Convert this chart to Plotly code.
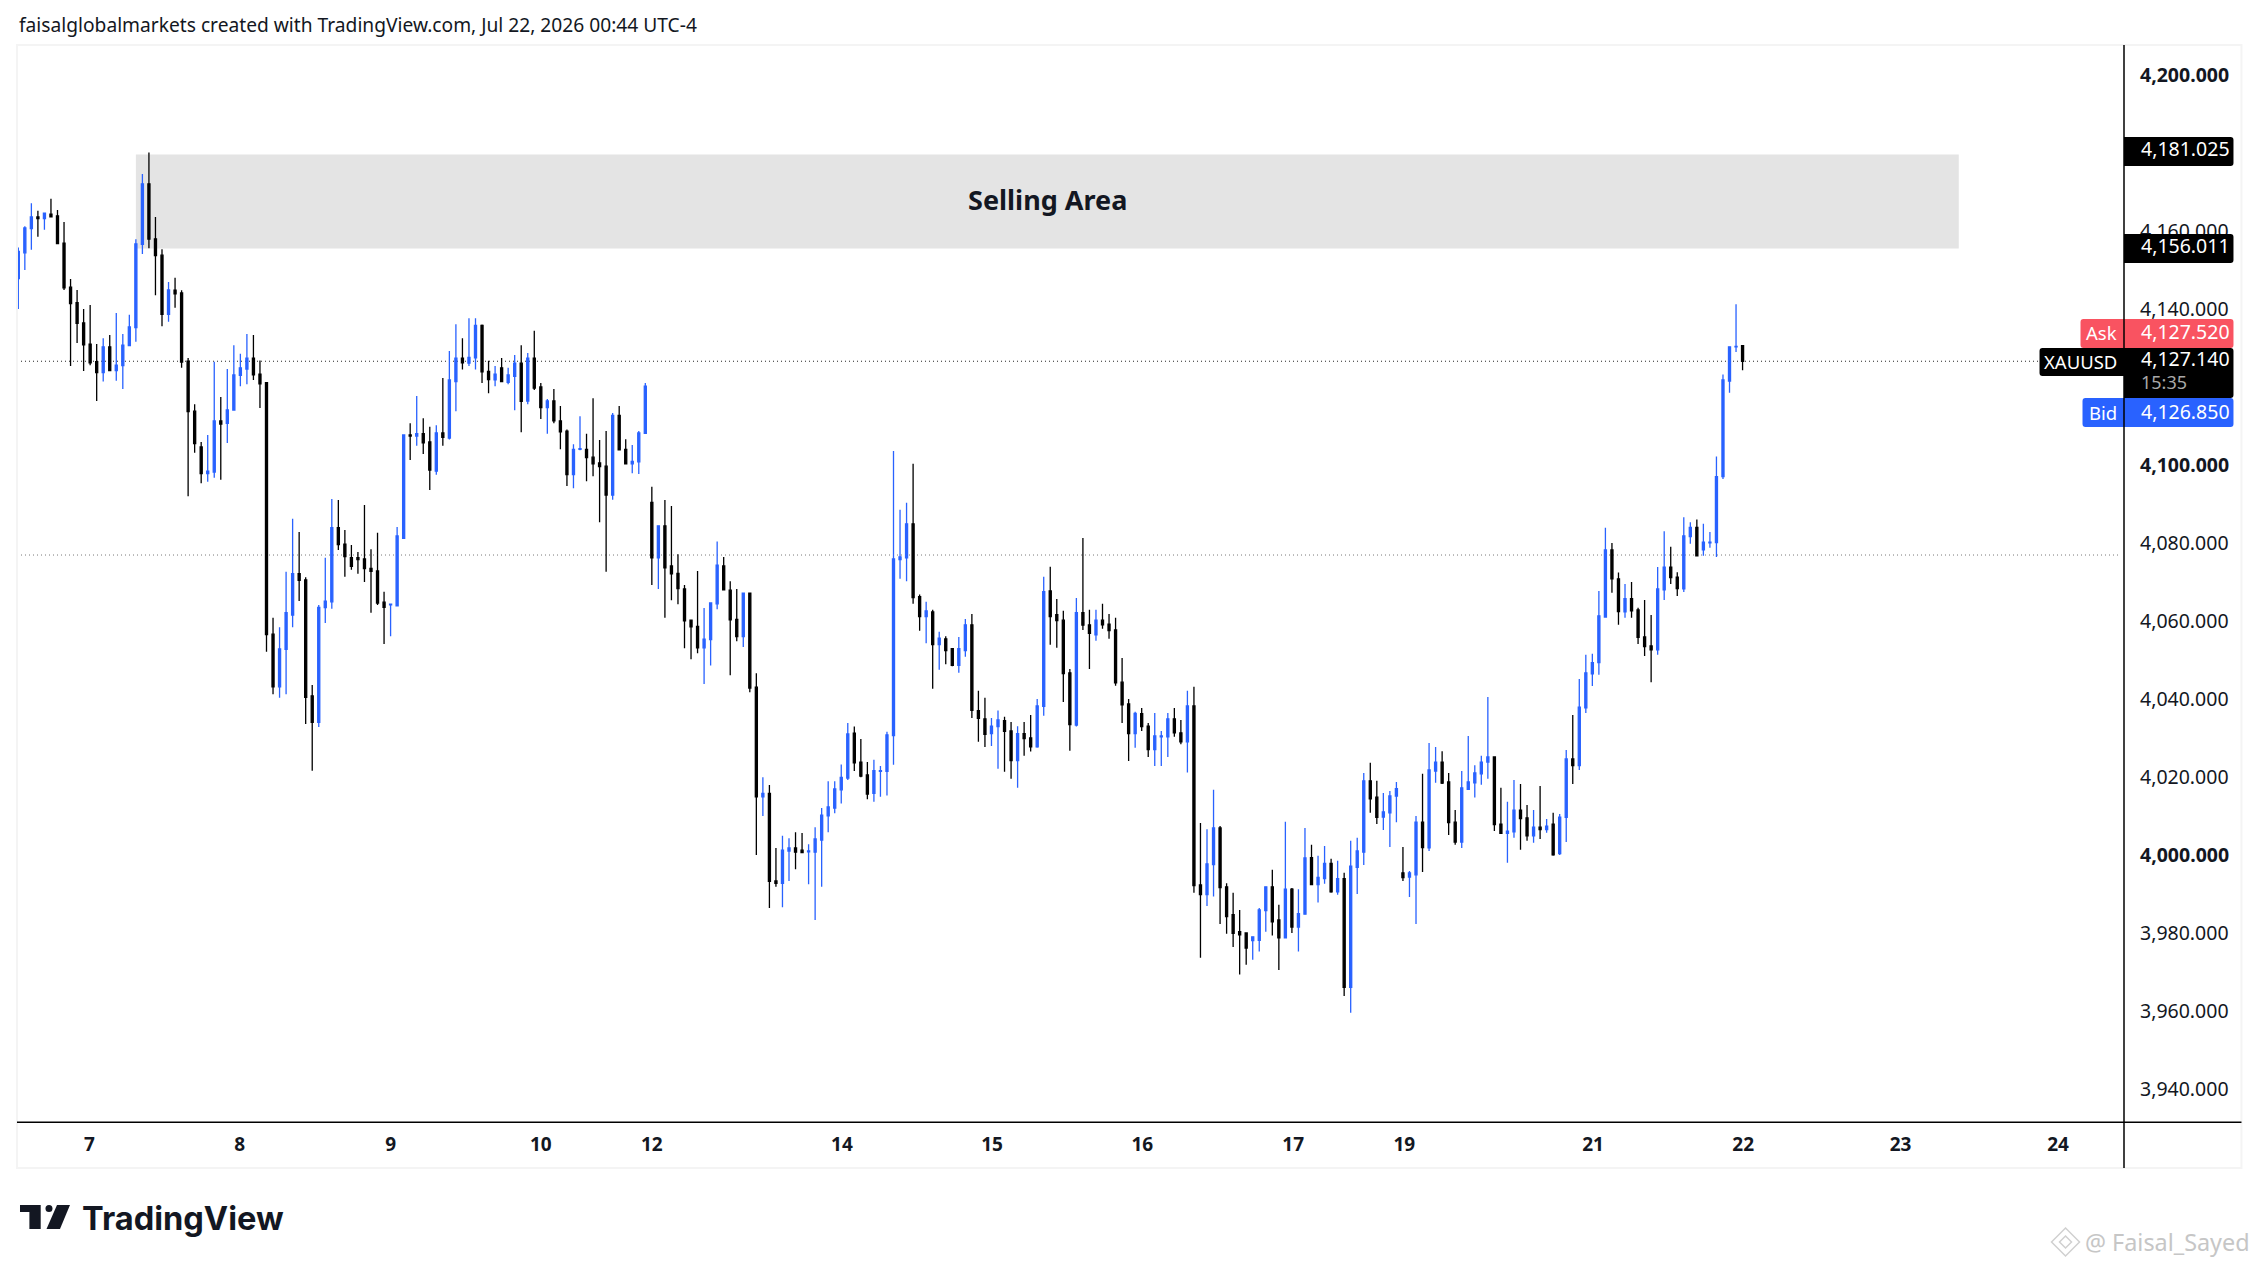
import plotly.graph_objects as go

W, H = 2259, 1267

opens = [4147.8,4154.4,4160.6,4163.6,4163.2,4164.3,4163.9,4156.9,4145.6,4141.6,
4136.4,4131,4126.5,4123.7,4130.3,4124.2,4125.5,4130.6,4135.2,4156.6,
4172.1,4158,4153.8,4138.6,4144.8,4144.1,4126.6,4113.8,4104.6,4097.8,
4098.2,4111.3,4110.7,4114.1,4123,4124.6,4127.4,4123.3,4121.1,4056.6,
4043.1,4052.7,4061.5,4072.1,4070.5,4040.8,4034,4063.4,4064.9,4083.9,
4079.7,4076.2,4076.2,4075.9,4073.5,4072.8,4064.8,4064.1,4063.9,4081.2,
4107.7,4107.4,4108,4105.9,4098.4,4108.2,4106.9,4121.4,4127.4,4126.1,
4127.5,4135.8,4124,4121.8,4124.9,4121.2,4122.7,4126.1,4116.4,4127.4,
4120,4114.7,4116.4,4111.3,4108.7,4097.5,4104,4104,4102,4100.5,
4099.7,4092.3,4112.7,4104,4100.3,4100.8,4108.1,4090.4,4076.2,4084.4,
4074.1,4072.2,4068.2,4060.2,4058.6,4053.1,4055.2,4064.4,4074.1,4067.9,
4060.4,4056,4067.1,4043,4014.9,4015.8,3993.3,3992.7,4001,4001.8,
4001.2,4000.8,4000.7,4003.8,4010,4012,4016.7,4019.7,4031.2,4023.8,
4020.5,4015.8,4021.4,4021.4,4030.6,4075.7,4076.2,4084.9,4066.2,4061.1,
4062.3,4053.9,4055.4,4052.9,4048.6,4052.4,4059,4037,4034.9,4031.1,
4032.9,4034.4,4031.8,4024.2,4031.1,4030,4027.7,4038.1,4067.7,4061.6,
4060.2,4046.7,4033.3,4062.1,4059,4056.4,4060.2,4059.2,4057.7,4044.3,
4038.7,4031.1,4036.2,4033,4027,4030.3,4030.3,4034.9,4031.3,4029,
4038.2,3992.3,3989.8,3997.5,4006.9,3991.8,3984.7,3980.3,3980,3978,
3978.1,3985.7,3991.8,3983.3,3978.7,3991.2,3981.5,3984.8,3999.3,3992.4,
3993.9,3997.8,3990.5,3993.9,3966,3996.8,4000.7,4019,4014.8,4009.7,
4010.8,4015.1,3995.4,3994.3,3994.9,4008.4,4001.8,4021.5,4023.8,4018.7,
4008.4,4003.3,4016.8,4018.5,4020.8,4023.8,4025.1,4007.9,4005.5,4005.9,
4011.5,4009.5,4004.9,4007.1,4006.5,4007.9,4000.3,4009.6,4024.6,4022.9,
4037.7,4046.4,4049.3,4061,4078.2,4070.8,4062.3,4065.7,4062.8,4055.9,
4053.6,4052.6,4068,4073.8,4071.2,4068.2,4081.6,4084,4078.2,4080,
4080.1,4097,4121.5,4130.3,4130.6]

closes = [4154.8,4160.8,4163.6,4163.2,4164.6,4163.6,4156.8,4145.4,4141.4,4136.3,
4130.8,4126.2,4123.7,4130.3,4124.2,4125.6,4130.7,4135.4,4156.7,4172.1,
4157.9,4153.7,4138.6,4144.9,4143.9,4126.4,4113.7,4105.5,4097.8,4098.4,
4111.3,4110.5,4114.1,4123.1,4124.9,4127.4,4123.1,4120.8,4056.5,4043.1,
4052.8,4062.1,4072.1,4070.4,4040.4,4034,4063.5,4065.1,4083.9,4079.6,
4076.5,4074,4075.7,4073.4,4072.7,4064.6,4063.5,4064.3,4081.8,4107.7,
4107.4,4108,4105.7,4098.7,4108.2,4107.1,4121.8,4127.4,4126.2,4127.6,
4135.8,4123.9,4121.9,4123.3,4121.4,4123.1,4126.1,4116.3,4127.4,4119.7,
4114.7,4116.4,4111.3,4108.5,4097.5,4104,4104.2,4101.9,4100.3,4099.6,
4092.3,4112.7,4103.9,4100.3,4100.9,4108.2,4120.2,4076.2,4084.4,4073.6,
4072.1,4068.3,4060,4058.5,4053.1,4055.3,4064.6,4074.3,4068,4060.3,
4056,4067.1,4042.8,4014.9,4015.8,3993.2,3992.7,4001.2,4001.8,4000.7,
4000.6,4001,4004.1,4010.2,4012.3,4016.9,4019.9,4031,4023.6,4020.2,
4015.6,4021.6,4021.6,4030.8,4075.9,4076.4,4084.9,4066,4061.1,4062.6,
4053.9,4055.6,4052.4,4048.6,4052.9,4059,4037.1,4035,4030.9,4033,
4034.6,4031.7,4024.2,4031.1,4029.8,4027.7,4038.2,4067.5,4061.1,4060.1,
4046.5,4033.4,4062.1,4058.9,4056.8,4060.2,4059,4057.5,4044.1,4038.5,
4031.1,4036.3,4032.9,4027,4030.5,4030.5,4034.9,4031.3,4029,4038.2,
3992.1,3989.8,3997.7,4006.9,3991.6,3984.2,3979.9,3979.5,3976.1,3979,
3985.9,3991.8,3982.8,3978.7,3991.2,3981.5,3984.9,3999.2,3992.4,3994.2,
3997.8,3990.5,3993.9,3966,3997.1,4001,4019,4014.4,4009.6,4011,
4015.1,4017,3994.2,3995.4,4008.4,4001.9,4021.8,4023.8,4018.4,4008.3,
4003.3,4017.2,4018.7,4021,4023.8,4025.1,4007.8,4005.5,4006.1,4011.5,
4009.3,4004.9,4007.1,4006.5,4007.4,4000,4009.7,4024.6,4022.9,4037.9,
4046.7,4049.3,4061.3,4078.2,4070.8,4062.4,4065.7,4062.6,4055.8,4053.4,
4052.6,4068.2,4073.8,4071.1,4068.3,4081.8,4084,4076.7,4080.2,4080.2,
4097,4121.8,4130.3,4130.4,4126.6]

highs = [4155.8,4161.2,4167.1,4165.2,4164.6,4168.3,4165.4,4162.3,4147.7,4144.9,
4140,4141,4131,4132.5,4133.3,4139,4133.6,4138.5,4157.9,4174.6,
4180.1,4163.6,4155.3,4146.9,4148,4144.8,4127.4,4115.6,4105.9,4107.7,
4126.5,4117.4,4124.6,4130.7,4128.5,4133.6,4133.3,4126.8,4121.1,4060.8,
4058.4,4072.6,4086.2,4082.8,4071.2,4043.6,4064.1,4076.2,4091.3,4091,
4083.3,4079.5,4077.7,4089.7,4078.4,4082.6,4067.5,4064.4,4084.1,4107.7,
4110.7,4117.7,4112,4109.8,4110.2,4122.3,4129.2,4136.1,4132.5,4137.6,
4137.6,4136,4126.7,4125.4,4127.4,4124.9,4128.2,4130.7,4128.7,4134.4,
4121,4116.9,4119.5,4115.1,4109.1,4105.3,4112.5,4108,4117.1,4106.4,
4108.7,4113.3,4115.1,4106.6,4105.1,4108.7,4121,4094.4,4084.5,4091,
4089.5,4077.1,4069.2,4060.2,4072.8,4063.3,4064.8,4080.4,4076.4,4070.2,
4068.2,4067.1,4067.2,4046.6,4019.9,4017.9,4001.8,4004.9,4004.3,4005.8,
4005.6,4002.7,4007.1,4012,4018.9,4018.9,4023.2,4033.8,4032.9,4029.7,
4023.8,4024.4,4022.8,4031.6,4103.6,4088.5,4090.3,4100.3,4066.8,4064.9,
4062.9,4057.2,4056.1,4052.9,4055.9,4060.5,4061.8,4042.1,4040.3,4035.1,
4037,4035.4,4034.1,4033,4034.1,4035.9,4040,4071.3,4073.9,4065.6,
4062.6,4047.7,4065.9,4081.3,4062.9,4062.9,4064.4,4061.8,4060.8,4050.5,
4040,4036.7,4037.7,4033.8,4036.4,4031.8,4036.4,4037.7,4034.6,4042.1,
4043.1,4008.2,4006.6,4016.7,4007.4,3992.7,3990.3,3985.9,3980,3979,
3986.4,3991.8,3996.2,3987.2,4008.5,3991.5,3991.2,4006.9,4002.6,3999.8,
4002.3,3999,3998.5,3995.4,4003.6,4004.4,4021,4023.6,4019,4015.9,
4016.4,4018.7,4002,3995.9,4010,4020.8,4028.7,4027.7,4026.6,4021,
4011.5,4021.5,4030.5,4023,4025.4,4040.5,4025.1,4017.2,4013.6,4019.2,
4018.2,4012.8,4011.5,4017.7,4009.2,4010.8,4010.5,4026.9,4035.9,4045.1,
4051.3,4051.6,4067.7,4083.9,4080,4072.4,4069.5,4070,4063.4,4065.4,
4061.5,4073.8,4083,4079,4072.5,4086.6,4085.3,4086,4084.9,4082.8,
4102.2,4123.2,4130.4,4141.2,4130.6]

lows = [4140,4150,4155.2,4158.5,4160.3,4163.6,4156.8,4144.9,4125.4,4131.3,
4124.1,4125.6,4116.4,4121.4,4124.2,4121.6,4119.5,4130.6,4131.6,4154.1,
4155.6,4143.5,4135.6,4136.7,4140.3,4124.9,4092,4103.1,4095.3,4095.7,
4096.7,4096.2,4105.6,4114.1,4120.2,4120.7,4121.8,4114.6,4052.1,4041.2,
4040.3,4041.2,4058.4,4065.1,4033.6,4021.6,4032.8,4059.5,4063.1,4078.2,
4071.3,4073.1,4072.1,4070,4062.1,4064.1,4054.1,4056.1,4063.7,4081,
4101.3,4104.9,4102.8,4093.6,4097.5,4104.9,4106.5,4113.8,4124.5,4125.4,
4124.5,4121,4118.4,4120.2,4121.4,4120.7,4114,4108.4,4115.6,4119.2,
4111.8,4108,4110.7,4104,4094.6,4094,4103.8,4095.8,4097.1,4085.3,
4072.6,4091.1,4103.9,4100.3,4097.9,4097.7,4108.1,4069.2,4068.2,4060.8,
4065.3,4064.3,4053,4050.2,4051.7,4043.8,4048.6,4063,4068,4046.1,
4054.8,4053.3,4041.7,4000,4010,3986.4,3991.8,3986.6,3993.3,3996.3,
4000.6,3992.5,3983.3,3991.8,4005.8,4010.7,4013.2,4019.2,4021.5,4019.9,
4014.3,4013.6,4014.9,4015.2,4023.1,4070.8,4070.2,4064.4,4057.5,4054.3,
4042.6,4047.5,4048.9,4048.4,4046.7,4050.8,4035.1,4029,4027.7,4027.9,
4022.1,4021.3,4019.5,4017.2,4025.4,4026.5,4027.5,4035.7,4053.9,4053.1,
4039.2,4026.7,4032.9,4057.7,4047.7,4054.9,4058,4055.4,4043.4,4033.8,
4024.1,4027.5,4031.8,4025.1,4022.8,4022.8,4025.1,4030.3,4028.4,4021.1,
3990.3,3973.6,3986.9,3989.3,3982.3,3979.8,3976.4,3969.3,3971.8,3973.1,
3975.2,3980.3,3979.3,3970.5,3978.7,3980,3975.2,3984.8,3992.4,3987.8,
3992.6,3990.3,3989.8,3963.8,3959.5,3990,3997.4,4010.8,4007.9,4006.4,
4002,4008.4,3993.3,3989.2,3982.3,3995.6,4001,4018.5,4018.2,4005.1,
4002.6,4001.8,4016.8,4014.7,4018,4019.5,4006.1,4005.5,3998,4004.4,
4001.3,4003.6,4003.1,4004.1,4005.7,3999.8,4000,4003.3,4018.2,4021.8,
4036.4,4043.3,4046.2,4061,4067.2,4059,4060.8,4060.8,4054.1,4051,
4044.3,4051.3,4065.4,4069.5,4066.4,4067.4,4079.8,4076.7,4076.7,4078.8,
4076.4,4096.4,4118.5,4129,4124.3]

bars = list(range(len(opens)))

day_labels = ["7", "8", "9", "10", "12", "14", "15", "16", "17", "19", "21", "22", "23", "24"]
day_bars = [10.9, 33.9, 57.0, 80.0, 97.0, 126.1, 149.1, 172.1, 195.2, 212.2, 241.1, 264.1, 288.2, 312.3]

price_ticks = [3940, 3960, 3980, 4000, 4020, 4040, 4060, 4080, 4100, 4120, 4140, 4160, 4180, 4200]
major_ticks = [4000, 4100, 4200]
hidden_ticks = [4120, 4180]

zone_top, zone_bottom = 4179.6, 4155.5
zone_start, zone_end = 18.0, 297.1
last_price = 4126.6
ref_price = 4076.9

UP = "#2962FF"
DOWN = "#000000"
FONT = "Noto Sans"

PL, PR, PT, PB = 17, 2124.5, 45, 1122


def px(x):
    return (x - PL) / (PR - PL)


def py(y):
    return (PB - y) / (PB - PT)


def tag(x0, y0, x1, y1, color, left_round=False, right_round=True, r=3):
    """A price tag with slightly rounded outer corners (pixel box converted to paper units)."""
    rl = r if left_round else 0
    rr = r if right_round else 0
    P = lambda a, b: f"{px(a):.6f},{py(b):.6f}"
    path = (f"M {P(x0 + rl, y0)} L {P(x1 - rr, y0)} Q {P(x1, y0)} {P(x1, y0 + rr)} "
            f"L {P(x1, y1 - rr)} Q {P(x1, y1)} {P(x1 - rr, y1)} L {P(x0 + rl, y1)} "
            f"Q {P(x0, y1)} {P(x0, y1 - rl)} L {P(x0, y0 + rl)} Q {P(x0, y0)} {P(x0 + rl, y0)} Z")
    return dict(type="path", xref="paper", yref="paper", path=path, fillcolor=color,
                line=dict(width=0), layer="above")


def seg(x0, y0, x1, y1, color, width=1.5):
    return dict(type="line", xref="paper", yref="paper", x0=px(x0), x1=px(x1), y0=py(y0), y1=py(y1),
                line=dict(color=color, width=width), layer="above")


def poly(points, fill, line_color=None, line_width=0):
    path = "M " + " L ".join(f"{px(a):.6f},{py(b):.6f}" for a, b in points) + " Z"
    return dict(type="path", xref="paper", yref="paper", path=path, fillcolor=fill,
                line=dict(color=line_color or fill, width=line_width), layer="above")


def label(x, y, text, size, color, anchor="left", bold=False, family=FONT):
    return dict(xref="paper", yref="paper", x=px(x), y=py(y), text=f"<b>{text}</b>" if bold else text,
                showarrow=False, xanchor=anchor, yanchor="middle",
                font=dict(family=family, size=size, color=color), align=anchor)


fig = go.Figure(go.Candlestick(
    x=bars, open=opens, high=highs, low=lows, close=closes,
    increasing=dict(line=dict(color=UP, width=1.3), fillcolor=UP),
    decreasing=dict(line=dict(color=DOWN, width=1.3), fillcolor=DOWN),
    whiskerwidth=0, hoverinfo="skip", showlegend=False,
))

shapes = [
    dict(type="rect", xref="x", yref="y", x0=zone_start, x1=zone_end, y0=zone_bottom, y1=zone_top,
         fillcolor="#E4E4E4", line=dict(width=0), layer="below"),
    dict(type="line", xref="paper", yref="y", x0=0, x1=px(2040), y0=last_price, y1=last_price,
         line=dict(color="#222222", width=1, dash="1px,3px"), layer="below"),
    dict(type="line", xref="paper", yref="y", x0=0, x1=px(2121), y0=ref_price, y1=ref_price,
         line=dict(color="#787878", width=1, dash="1px,3px"), layer="below"),
    # frame and axis rules
    dict(type="rect", xref="paper", yref="paper", x0=px(17), x1=px(2242), y0=py(1168), y1=py(45),
         fillcolor="rgba(0,0,0,0)", line=dict(color="#F4F4F4", width=2), layer="above"),
    seg(17, 1122.3, 2242, 1122.3, "#000000"),
    # price tags
    tag(2124.5, 137, 2234, 166, "#000000"),
    tag(2124.5, 234, 2234, 263, "#000000"),
    tag(2081, 319, 2234, 348, "#F95361", left_round=True),
    tag(2040, 348, 2130, 376, "#000000", left_round=True, right_round=False),
    tag(2124.5, 348, 2234, 398, "#000000"),
    tag(2083, 398, 2234, 427, "#2962FF", left_round=True),
    seg(2124.5, 45, 2124.5, 1168, "#000000"),
    # logo
    poly([(20, 1205), (40.7, 1205), (40.7, 1229), (29.4, 1229), (29.4, 1212), (20, 1212)], "#131722"),
    dict(type="circle", xref="paper", yref="paper", x0=px(45.5), x1=px(52.5), y0=py(1212), y1=py(1205),
         fillcolor="#131722", line=dict(width=0), layer="above"),
    poly([(57, 1205), (70, 1205), (60, 1229), (46.5, 1229)], "#131722"),
    # watermark icon
    poly([(2066, 1228), (2080, 1242), (2066, 1256), (2052, 1242)], "rgba(0,0,0,0)", "#D0D0D0", 1.5),
    poly([(2066, 1236), (2072, 1242), (2066, 1248), (2060, 1242)], "rgba(0,0,0,0)", "#D0D0D0", 1.5),
]

annotations = [
    label(17, 25, "faisalglobalmarkets created with TradingView.com, Jul 22, 2026 00:44 UTC-4", 19.2, "#131722"),
    label(80, 1218, "TradingView", 32.6, "#131722", bold=True, family="Inter"),
    label(2253, 1242, "@ Faisal_Sayed", 23.4, "#C6C6C6", anchor="right"),
    dict(xref="x", yref="y", x=(zone_start + zone_end) / 2, y=(zone_top + zone_bottom) / 2 + 0.5,
         text="<b>Selling Area</b>", showarrow=False, font=dict(family=FONT, size=27, color="#131722")),
    label(2140, 149, "4,181.025", 19.5, "#FFFFFF"),
    label(2140, 246, "4,156.011", 19.5, "#FFFFFF"),
    label(2140, 331, "4,127.520", 19.5, "#FFFFFF"),
    label(2140, 358, "4,127.140", 19.5, "#FFFFFF"),
    label(2140, 382, "15:35", 18, "#A8A8A8"),
    label(2140, 411, "4,126.850", 19.5, "#FFFFFF"),
    label(2119, 333, "Ask", 18.5, "#FFFFFF", anchor="right"),
    label(2119, 361, "XAUUSD", 18.5, "#FFFFFF", anchor="right"),
    label(2119, 412, "Bid", 18.5, "#FFFFFF", anchor="right"),
]

tick_text = []
for value in price_ticks:
    text = f"{value:,.3f}"
    tick_text.append(f"<b>{text}</b>" if value in major_ticks else text)

fig.update_layout(
    width=W, height=H,
    margin=dict(l=PL, r=W - PR, t=PT, b=H - PB, autoexpand=False),
    paper_bgcolor="#FFFFFF", plot_bgcolor="#FFFFFF",
    showlegend=False, shapes=shapes, annotations=annotations, boxgap=0.55,
    xaxis=dict(range=[-0.2, 322.4], rangeslider=dict(visible=False), showgrid=False, zeroline=False,
               tickmode="array", tickvals=day_bars, ticktext=[f"<b>{d}</b>" for d in day_labels],
               ticks="", ticklabelstandoff=9, tickfont=dict(family=FONT, size=19, color="#131722"), showline=False),
    yaxis=dict(range=[3931.5, 4207.7], side="right", showgrid=False, zeroline=False, showline=False,
               tickmode="array", tickvals=[v for v in price_ticks if v not in hidden_ticks],
               ticktext=[t for v, t in zip(price_ticks, tick_text) if v not in hidden_ticks],
               ticks="", ticklabelstandoff=15, tickfont=dict(family=FONT, size=19.5, color="#131722")),
)

fig.write_html("out.html", config=dict(displayModeBar=False),
               post_script="document.body.style.margin='0';document.documentElement.style.overflow='hidden';")
